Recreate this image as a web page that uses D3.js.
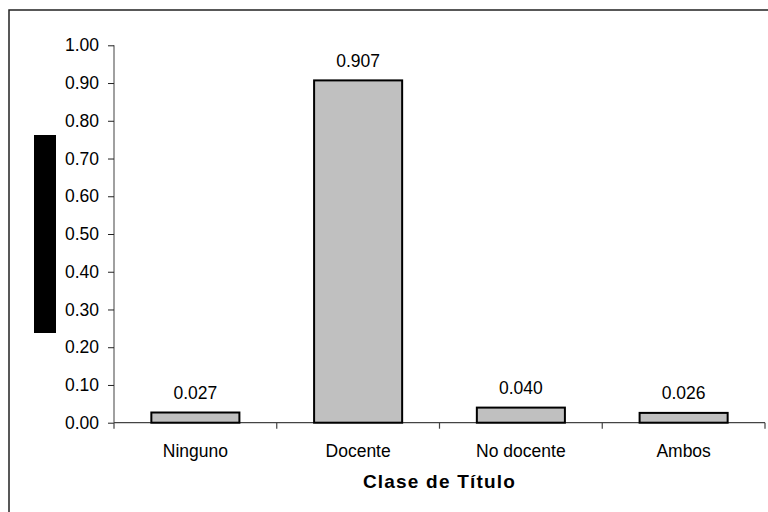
<!DOCTYPE html>
<html><head><meta charset="utf-8">
<script src="https://cdn.jsdelivr.net/npm/d3@7/dist/d3.min.js"></script>
<style>html,body{margin:0;padding:0;background:#fff}svg{display:block}text{font-family:Arial,"Liberation Sans",sans-serif}</style>
</head><body>
<script>
const categories = ["Ninguno", "Docente", "No docente", "Ambos"];
const values = [0.027, 0.907, 0.040, 0.026];
const valueLabels = ["0.027", "0.907", "0.040", "0.026"];
const yTicks = [0, 0.1, 0.2, 0.3, 0.4, 0.5, 0.6, 0.7, 0.8, 0.9, 1.0];
const xTitle = "Clase de Título";

const W = 768, H = 512;
const svg = d3.select("body").append("svg").attr("width", W).attr("height", H);

// outer chart border (right/bottom edges fall outside the picture)
svg.append("rect").attr("x", 9).attr("y", 10).attr("width", 800).attr("height", 600)
  .attr("fill", "none").attr("stroke", "#222").attr("stroke-width", 1.5);

const x0 = 114, x1 = 765, yBase = 422.7, yTop = 45.3;
const x = d3.scaleBand().domain(categories).range([x0, x1]).paddingInner(0.459).paddingOuter(0.2295);
const y = d3.scaleLinear().domain([0, 1]).range([yBase, yTop]);
const FS = 17.5;

// black block (y-axis title placeholder)
svg.append("rect").attr("x", 34).attr("y", 135).attr("width", 22).attr("height", 198).attr("fill", "#000");

// y axis
const yAxis = d3.axisLeft(y).tickValues(yTicks).tickFormat(d3.format(".2f")).tickSize(6).tickPadding(9);
const gy = svg.append("g").attr("transform", `translate(${x0},0)`).call(yAxis);
gy.select(".domain").attr("stroke", "#808080").attr("stroke-width", 1.5).attr("d", `M0,${yTop}V${yBase}`);
gy.selectAll(".tick line").attr("stroke", "#222");
gy.selectAll(".tick text").attr("font-size", FS).attr("fill", "#000").attr("font-family", "Arial, 'Liberation Sans', sans-serif");

// x axis line and boundary ticks
const step = x.step();
const bounds = d3.range(categories.length + 1).map(i => x0 + i * step);
svg.append("line").attr("x1", x0).attr("x2", x1).attr("y1", yBase).attr("y2", yBase).attr("stroke", "#444").attr("stroke-width", 1.2);
svg.selectAll("line.xt").data(bounds).enter().append("line").attr("class", "xt")
  .attr("x1", d => d).attr("x2", d => d).attr("y1", yBase).attr("y2", yBase + 6).attr("stroke", "#444").attr("stroke-width", 1.2);

// bars
svg.selectAll("rect.bar").data(values).enter().append("rect").attr("class", "bar")
  .attr("x", (d, i) => x(categories[i])).attr("width", x.bandwidth())
  .attr("y", d => y(d)).attr("height", d => yBase - y(d))
  .attr("fill", "#c0c0c0").attr("stroke", "#000").attr("stroke-width", 2);

// value labels
svg.selectAll("text.val").data(values).enter().append("text").attr("class", "val")
  .attr("x", (d, i) => x(categories[i]) + x.bandwidth() / 2).attr("y", d => y(d) - 13.5)
  .attr("text-anchor", "middle").attr("font-size", FS).text((d, i) => valueLabels[i]);

// category labels
svg.selectAll("text.cat").data(categories).enter().append("text").attr("class", "cat")
  .attr("x", d => x(d) + x.bandwidth() / 2).attr("y", 457)
  .attr("text-anchor", "middle").attr("font-size", FS).text(d => d);

// x title
svg.append("text").attr("x", (x0 + x1) / 2).attr("y", 488).attr("text-anchor", "middle")
  .attr("font-size", 19).attr("font-weight", "bold").attr("letter-spacing", 1.2).text(xTitle);
</script>
</body></html>
